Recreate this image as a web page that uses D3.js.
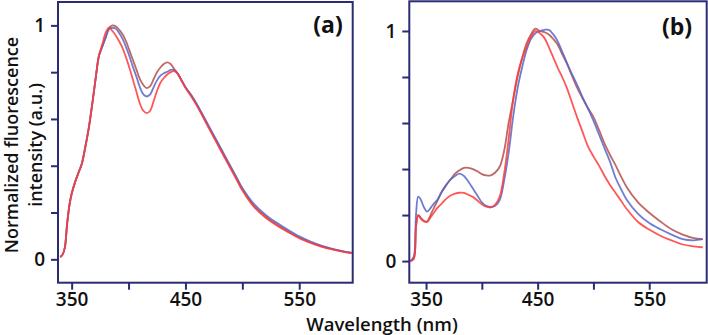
<!DOCTYPE html>
<html>
<head>
  <meta charset="utf-8">
  <title>Normalized fluorescence spectra</title>
  <style>
    body { margin: 0; background: #fff; }
    text { font-family: "Open Sans", sans-serif; fill: #111; }
  </style>
  <script src="https://d3js.org/d3.v7.min.js"></script>
</head>
<body>
<div id="chart"></div>
<script>
  // panel (a) data
  const wlA = [340, 342, 344, 346, 348, 350, 353, 356, 359, 362, 365, 368, 371, 374, 377, 380,
    383, 386, 389, 392, 395, 398, 401, 404, 407, 410, 413, 416, 419, 422, 425, 428, 431, 434,
    437, 440, 443, 446, 450, 455, 460, 465, 470, 475, 480, 485, 490, 495, 500, 510, 520, 530,
    540, 550, 560, 570, 580, 590, 596];
  const aBrown = [0.01, 0.02, 0.05, 0.15, 0.23, 0.28, 0.33, 0.37, 0.41, 0.48, 0.56, 0.66, 0.77, 0.87, 0.91, 0.95,
    0.99, 1.0, 0.995, 0.98, 0.96, 0.93, 0.89, 0.85, 0.81, 0.77, 0.745, 0.732, 0.74, 0.77, 0.80, 0.82, 0.835, 0.842,
    0.835, 0.815, 0.795, 0.77, 0.735, 0.70, 0.66, 0.615, 0.57, 0.525, 0.48, 0.435, 0.39, 0.345, 0.30, 0.23, 0.185, 0.15,
    0.12, 0.093, 0.072, 0.055, 0.042, 0.032, 0.027];
  const aBlue = [0.01, 0.02, 0.05, 0.15, 0.23, 0.28, 0.33, 0.37, 0.41, 0.48, 0.56, 0.66, 0.77, 0.87, 0.91, 0.95,
    0.985, 0.99, 0.985, 0.965, 0.94, 0.905, 0.865, 0.82, 0.78, 0.735, 0.705, 0.696, 0.705, 0.735, 0.765, 0.785, 0.795, 0.802,
    0.81, 0.81, 0.795, 0.77, 0.737, 0.703, 0.664, 0.62, 0.575, 0.53, 0.485, 0.44, 0.395, 0.35, 0.305, 0.238, 0.192, 0.157,
    0.126, 0.098, 0.076, 0.058, 0.044, 0.033, 0.028];
  const aRed = [0.01, 0.02, 0.05, 0.15, 0.23, 0.28, 0.33, 0.37, 0.41, 0.48, 0.56, 0.66, 0.77, 0.87, 0.92, 0.97,
    0.99, 0.975, 0.955, 0.93, 0.90, 0.86, 0.815, 0.765, 0.715, 0.665, 0.635, 0.625, 0.635, 0.675, 0.72, 0.755, 0.775, 0.79,
    0.80, 0.805, 0.795, 0.77, 0.733, 0.697, 0.657, 0.612, 0.566, 0.52, 0.475, 0.43, 0.385, 0.34, 0.295, 0.225, 0.18, 0.146,
    0.117, 0.09, 0.07, 0.053, 0.041, 0.031, 0.026];

  // panel (b) data
  const wlB = [336, 339, 341, 343, 345, 348, 351, 354, 357, 360, 364, 368, 372, 376, 380, 384, 388, 392, 396, 400,
    404, 408, 412, 416, 420, 424, 428, 432, 436, 440, 444, 448, 452, 456, 460, 464, 468, 472, 476, 480, 485, 490,
    495, 500, 505, 510, 515, 520, 525, 530, 540, 550, 560, 570, 580, 590, 598];
  const bBrown = [0.0, 0.01, 0.15, 0.2, 0.19, 0.175, 0.172, 0.2, 0.23, 0.26, 0.3, 0.33, 0.355, 0.38, 0.395, 0.405, 0.405, 0.4, 0.39, 0.378,
    0.372, 0.372, 0.385, 0.41, 0.48, 0.6, 0.70, 0.80, 0.88, 0.945, 0.985, 1.01, 1.0, 0.995, 0.985, 0.965, 0.94, 0.9, 0.86, 0.815, 0.757, 0.71,
    0.665, 0.627, 0.57, 0.51, 0.46, 0.415, 0.365, 0.32, 0.255, 0.21, 0.172, 0.138, 0.115, 0.1, 0.095];
  const bBlue = [0.0, 0.02, 0.2, 0.28, 0.27, 0.235, 0.215, 0.23, 0.25, 0.265, 0.3, 0.33, 0.355, 0.37, 0.38, 0.37, 0.345, 0.315, 0.285, 0.255,
    0.24, 0.235, 0.24, 0.265, 0.35, 0.47, 0.625, 0.75, 0.84, 0.915, 0.965, 0.99, 1.0, 1.005, 1.005, 0.985, 0.955, 0.91, 0.865, 0.82, 0.77, 0.715,
    0.665, 0.61, 0.55, 0.49, 0.43, 0.36, 0.31, 0.265, 0.205, 0.165, 0.138, 0.115, 0.095, 0.09, 0.095];
  const bRed = [0.0, 0.01, 0.15, 0.2, 0.185, 0.172, 0.17, 0.19, 0.21, 0.23, 0.25, 0.27, 0.285, 0.293, 0.297, 0.296, 0.288, 0.279, 0.263, 0.247,
    0.236, 0.233, 0.245, 0.28, 0.38, 0.53, 0.70, 0.81, 0.88, 0.93, 0.975, 1.0, 0.99, 0.97, 0.93, 0.885, 0.84, 0.8, 0.755, 0.7, 0.63, 0.565,
    0.5, 0.455, 0.415, 0.37, 0.33, 0.295, 0.26, 0.225, 0.17, 0.137, 0.11, 0.09, 0.072, 0.064, 0.06];

  const xTicks = [350, 400, 450, 500, 550];
  const xTickLabels = [350, 450, 550];
  const yTicks = [0, 0.2, 0.4, 0.6, 0.8, 1];
  const yTickLabels = [0, 1];
  const colors = ['#b34f4a', '#5566c8', '#ff3a3a'];

  const frameColor = '#2b2b74';
  const svg = d3.select('#chart').append('svg')
    .attr('width', 708)
    .attr('height', 335);

  const panels = [
    { label: '(a)', wl: wlA, series: [aBrown, aBlue, aRed], xDom: [338, 597], yDom: [-0.1, 1.1],
      left: 58, right: 352.7, top: 2, bottom: 282.7, lx: 328, ly: 33 },
    { label: '(b)', wl: wlB, series: [bBrown, bBlue, bRed], xDom: [335, 601.5], yDom: [-0.094, 1.129],
      left: 409.3, right: 706.7, top: 1.3, bottom: 282.7, lx: 677, ly: 35 }
  ];

  panels.forEach(p => {
    const x = d3.scaleLinear().domain(p.xDom).range([p.left, p.right]);
    const y = d3.scaleLinear().domain(p.yDom).range([p.bottom, p.top]);
    const g = svg.append('g');

    const line = d3.line()
      .x((d, i) => x(p.wl[i]))
      .y(d => y(d))
      .curve(d3.curveCatmullRom);

    p.series.forEach((s, k) => {
      g.append('path')
        .datum(s)
        .attr('d', line)
        .attr('fill', 'none')
        .attr('stroke', colors[k])
        .attr('stroke-width', 1.8)
        .attr('stroke-opacity', 0.85);
    });

    // x axis
    const xAxis = d3.axisBottom(x)
      .tickValues(xTicks)
      .tickSize(7)
      .tickPadding(3)
      .tickFormat(d => xTickLabels.includes(d) ? d : '');
    const gx = g.append('g')
      .attr('transform', `translate(0,${p.bottom})`)
      .call(xAxis);

    // y axis
    const yAxis = d3.axisLeft(y)
      .tickValues(yTicks)
      .tickSize(7)
      .tickPadding(6)
      .tickFormat(d => yTickLabels.includes(d) ? d : '');
    const gy = g.append('g')
      .attr('transform', `translate(${p.left},0)`)
      .call(yAxis);

    [gx, gy].forEach(a => {
      a.select('.domain').remove();
      a.selectAll('line').attr('stroke', frameColor).attr('stroke-width', 2);
      a.selectAll('text')
        .attr('font-family', '"Open Sans", sans-serif')
        .attr('font-weight', 600)
        .attr('font-size', 19)
        .attr('fill', '#111');
    });

    g.append('rect')
      .attr('x', p.left)
      .attr('y', p.top)
      .attr('width', p.right - p.left)
      .attr('height', p.bottom - p.top)
      .attr('fill', 'none')
      .attr('stroke', frameColor)
      .attr('stroke-width', 2);

    g.append('text')
      .attr('x', p.lx)
      .attr('y', p.ly)
      .attr('text-anchor', 'middle')
      .attr('font-weight', 700)
      .attr('font-size', 23)
      .text(p.label);
  });

  svg.append('text')
    .attr('x', 382)
    .attr('y', 331)
    .attr('text-anchor', 'middle')
    .attr('font-weight', 600)
    .attr('font-size', 18.5)
    .text('Wavelength (nm)');

  const yl = svg.append('text')
    .attr('transform', 'translate(18,145) rotate(-90)')
    .attr('text-anchor', 'middle')
    .attr('font-weight', 600)
    .attr('font-size', 18);
  yl.append('tspan').attr('x', 0).attr('dy', 0).text('Normalized fluorescence');
  yl.append('tspan').attr('x', 0).attr('dy', 24).text('intensity (a.u.)');
</script>
</body>
</html>
